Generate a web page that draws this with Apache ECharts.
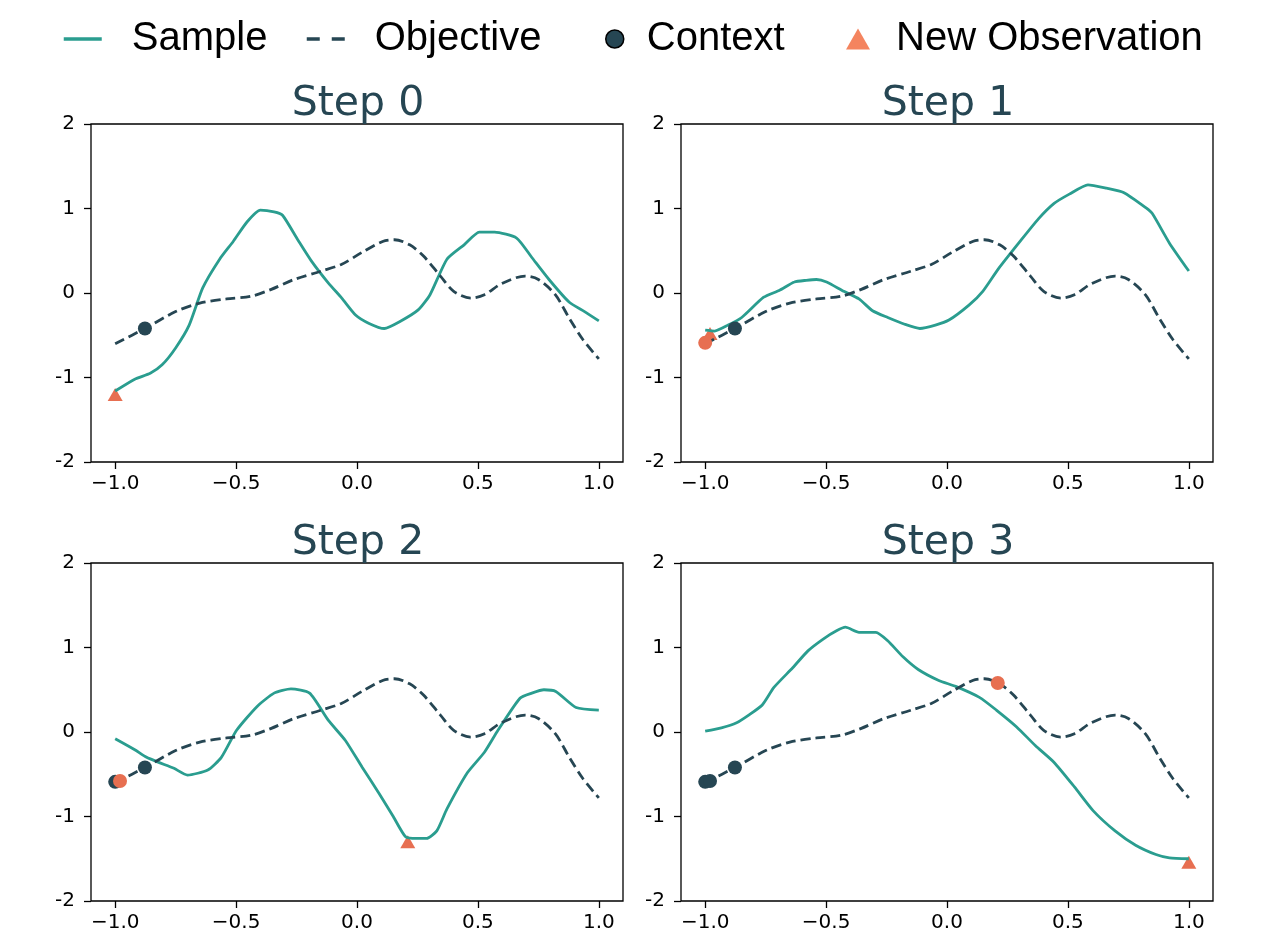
<!DOCTYPE html>
<html>
<head>
<meta charset="utf-8">
<script src="https://cdn.jsdelivr.net/npm/echarts@6/dist/echarts.min.js"></script>
<style>
  html, body { margin: 0; padding: 0; background: #fff; }
  #chart { width: 1266px; height: 935px; }
</style>
</head>
<body>
<div id="chart"></div>
<script>
// objective function (same in every panel)
const objective = [
  [-1.0, -0.60], [-0.877, -0.42], [-0.75, -0.22], [-0.65, -0.12], [-0.54, -0.07],
  [-0.44, -0.04], [-0.357, 0.04], [-0.26, 0.16], [-0.147, 0.26], [-0.063, 0.34],
  [0.02, 0.48], [0.106, 0.61], [0.155, 0.63], [0.218, 0.57], [0.274, 0.44],
  [0.345, 0.20], [0.40, 0.02], [0.47, -0.06], [0.527, -0.02], [0.597, 0.11],
  [0.695, 0.20], [0.75, 0.16], [0.82, -0.02], [0.878, -0.30], [0.934, -0.55],
  [1.0, -0.78]
]

// samples drawn at each step
const sample0 = [
  [-1.0, -1.16], [-0.919, -1.02], [-0.855, -0.95], [-0.806, -0.85], [-0.75, -0.65],
  [-0.694, -0.38], [-0.638, 0.06], [-0.568, 0.40], [-0.512, 0.61], [-0.455, 0.84],
  [-0.40, 0.98], [-0.343, 0.96], [-0.308, 0.92], [-0.245, 0.63], [-0.189, 0.38],
  [-0.119, 0.12], [-0.063, -0.06], [-0.006, -0.26], [0.05, -0.36], [0.113, -0.42],
  [0.176, -0.34], [0.253, -0.20], [0.302, -0.02], [0.372, 0.40], [0.443, 0.57],
  [0.506, 0.72], [0.569, 0.72], [0.66, 0.65], [0.723, 0.42], [0.794, 0.16],
  [0.878, -0.11], [0.941, -0.22], [1.0, -0.33]
]
const sample1 = [
  [-1.0, -0.44], [-0.961, -0.45], [-0.905, -0.38], [-0.849, -0.29], [-0.758, -0.05],
  [-0.694, 0.03], [-0.631, 0.13], [-0.582, 0.15], [-0.54, 0.16], [-0.498, 0.13],
  [-0.427, 0.02], [-0.364, -0.07], [-0.308, -0.21], [-0.245, -0.29], [-0.175, -0.37],
  [-0.112, -0.42], [-0.048, -0.38], [0.008, -0.32], [0.092, -0.14], [0.148, 0.02],
  [0.211, 0.28], [0.302, 0.61], [0.379, 0.88], [0.443, 1.06], [0.506, 1.17],
  [0.583, 1.28], [0.66, 1.24], [0.73, 1.19], [0.822, 1.01], [0.849, 0.94],
  [0.92, 0.59], [1.0, 0.26]
]
const sample2 = [
  [-1.0, -0.08], [-0.919, -0.21], [-0.87, -0.30], [-0.82, -0.36], [-0.757, -0.43],
  [-0.701, -0.51], [-0.617, -0.45], [-0.561, -0.30], [-0.498, 0.02], [-0.414, 0.30],
  [-0.343, 0.46], [-0.273, 0.51], [-0.196, 0.46], [-0.119, 0.14], [-0.048, -0.10],
  [0.022, -0.42], [0.092, -0.73], [0.148, -0.99], [0.201, -1.24], [0.246, -1.26],
  [0.288, -1.26], [0.330, -1.17], [0.372, -0.91], [0.457, -0.48], [0.527, -0.24],
  [0.583, 0.02], [0.674, 0.40], [0.723, 0.46], [0.773, 0.50], [0.822, 0.48],
  [0.906, 0.29], [1.0, 0.26]
]
const sample3 = [
  [-1.0, 0.01], [-0.933, 0.05], [-0.87, 0.11], [-0.82, 0.20], [-0.764, 0.32],
  [-0.715, 0.53], [-0.638, 0.76], [-0.575, 0.96], [-0.512, 1.10], [-0.455, 1.20],
  [-0.42, 1.24], [-0.364, 1.18], [-0.294, 1.18], [-0.245, 1.08], [-0.182, 0.89],
  [-0.119, 0.74], [-0.034, 0.61], [0.036, 0.54], [0.134, 0.41], [0.204, 0.26],
  [0.288, 0.06], [0.365, -0.16], [0.443, -0.36], [0.527, -0.65], [0.604, -0.93],
  [0.695, -1.17], [0.78, -1.34], [0.864, -1.45], [0.92, -1.49], [1.0, -1.50]
]

// context points (older), latest added context point, new observation
const context0 = [[-0.877, -0.42]]
const context1 = [[-0.877, -0.42]]
const context2 = [[-1.0, -0.59], [-0.877, -0.42]]
const context3 = [[-1.0, -0.59], [-0.98, -0.58], [-0.877, -0.42]]
const latest0 = []
const latest1 = [[-1.0, -0.59]]
const latest2 = [[-0.98, -0.58]]
const latest3 = [[0.21, 0.58]]
const newObs0 = [[-1.0, -1.20]]
const newObs1 = [[-0.98, -0.48]]
const newObs2 = [[0.21, -1.30]]
const newObs3 = [[1.0, -1.54]]

const stepTitles = ['Step 0', 'Step 1', 'Step 2', 'Step 3']
const xTicks = [-1.0, -0.5, 0.0, 0.5, 1.0]

const samples = [sample0, sample1, sample2, sample3]
const contexts = [context0, context1, context2, context3]
const latests = [latest0, latest1, latest2, latest3]
const newObs = [newObs0, newObs1, newObs2, newObs3]

const TEAL = '#2a9d8f'
const DARK = '#264653'
const ORANGE = '#e76f51'

const gridPos = [
  { left: 91, top: 124 },
  { left: 681, top: 124 },
  { left: 91, top: 563 },
  { left: 681, top: 563 }
]

const chart = echarts.init(document.getElementById('chart'))

const grids = gridPos.map(p => ({
  left: p.left, top: p.top, width: 532, height: 338,
  show: true, borderColor: '#000', borderWidth: 1.3, backgroundColor: 'transparent'
}))

const tickFont = { fontFamily: 'DejaVu Sans', fontSize: 20, color: '#000' }

const xAxes = gridPos.map((p, i) => ({
  gridIndex: i, type: 'value', min: -1.1, max: 1.1, position: 'bottom',
  axisLine: { show: false, onZero: false },
  splitLine: { show: false },
  axisTick: { show: true, length: 7, customValues: xTicks, lineStyle: { color: '#000', width: 1.3 } },
  axisLabel: {
    ...tickFont, margin: 12, customValues: xTicks,
    formatter: v => (v < 0 ? '\u2212' : '') + Math.abs(v).toFixed(1)
  }
}))

const yAxes = gridPos.map((p, i) => ({
  gridIndex: i, type: 'value', min: -2, max: 2, interval: 1, position: 'left',
  axisLine: { show: false, onZero: false },
  splitLine: { show: false },
  axisTick: { show: true, length: 7, lineStyle: { color: '#000', width: 1.3 } },
  axisLabel: { ...tickFont, margin: 16, formatter: v => String(v) }
}))

const titles = gridPos.map((p, i) => ({
  text: stepTitles[i],
  left: p.left + 262, top: i < 2 ? 79 : 518, textAlign: 'center',
  textStyle: { fontFamily: 'DejaVu Sans', fontSize: 41, fontWeight: 'normal', color: DARK }
}))

const series = []
for (let i = 0; i < 4; i++) {
  series.push({
    name: 'New Observation', type: 'scatter', xAxisIndex: i, yAxisIndex: i,
    data: newObs[i], symbol: 'triangle', symbolSize: [15, 13],
    itemStyle: { color: ORANGE, opacity: 1 }, z: 2
  })
  series.push({
    name: 'Sample', type: 'line', xAxisIndex: i, yAxisIndex: i,
    data: samples[i], symbol: 'none', smooth: 0.2,
    lineStyle: { color: TEAL, width: 2.8 }, itemStyle: { color: TEAL }, z: 3
  })
  series.push({
    name: 'Objective', type: 'line', xAxisIndex: i, yAxisIndex: i,
    data: objective, symbol: 'none', smooth: 0.3,
    lineStyle: { color: DARK, width: 2.8, type: [10, 5] }, itemStyle: { color: DARK }, z: 3
  })
  series.push({
    name: 'Context', type: 'scatter', xAxisIndex: i, yAxisIndex: i,
    data: contexts[i], symbol: 'circle', symbolSize: 14,
    itemStyle: { color: DARK, opacity: 1 }, z: 4
  })
  series.push({
    name: 'Latest Context', type: 'scatter', xAxisIndex: i, yAxisIndex: i,
    data: latests[i], symbol: 'circle', symbolSize: 14,
    itemStyle: { color: ORANGE, opacity: 1 }, z: 5
  })
}

const legendText = { fontFamily: 'Liberation Sans', fontSize: 40, color: '#000' }
const hideSymbol = { opacity: 0 }
const legends = [
  { left: 62, data: [{ name: 'Sample', itemStyle: hideSymbol, lineStyle: { width: 3.5 } }], w: 38, h: 14, pad: 25 },
  { left: 305, data: [{ name: 'Objective', itemStyle: hideSymbol, lineStyle: { width: 3.5, type: [13, 12] } }], w: 38, h: 14, pad: 25 },
  { left: 605, data: [{ name: 'Context', itemStyle: { color: DARK, borderColor: '#000', borderWidth: 1.5, opacity: 1 } }], w: 18, h: 18, pad: 18 },
  { left: 846, data: [{ name: 'New Observation', itemStyle: { color: '#f4845f', opacity: 1 } }], w: 24, h: 21, pad: 21 }
].map(l => ({
  left: l.left, top: 19, padding: 0, selectedMode: false,
  data: l.data,
  itemWidth: l.w, itemHeight: l.h,
  textStyle: { ...legendText, padding: [0, 0, 0, l.pad] }
}))

chart.setOption({
  animation: false,
  backgroundColor: '#fff',
  title: titles,
  legend: legends,
  grid: grids,
  xAxis: xAxes,
  yAxis: yAxes,
  series: series
})
</script>
</body>
</html>
